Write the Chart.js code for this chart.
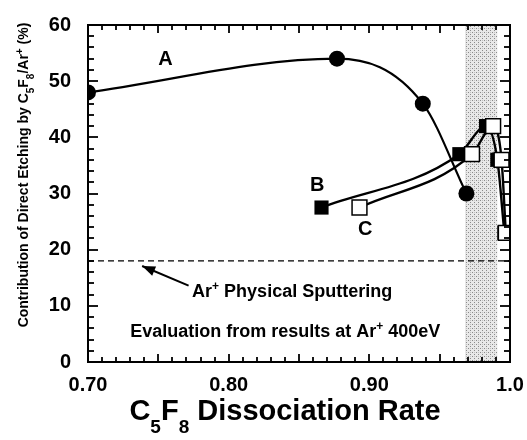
<!DOCTYPE html>
<html>
<head>
<meta charset="utf-8">
<script src="https://cdn.jsdelivr.net/npm/chart.js@4.4.1/dist/chart.umd.min.js"></script>
<style>
  html, body { margin: 0; padding: 0; background: #fff; }
  #wrap { width: 527px; height: 440px; }
</style>
</head>
<body>
<div id="wrap"><canvas id="c" width="527" height="440"></canvas></div>
<script>
// ---- data ----
const seriesA_x = [0.700, 0.877, 0.938, 0.969];
const seriesA_y = [48, 54, 46, 30];
const seriesB_x = [0.866, 0.964, 0.983, 0.991, 0.996];
const seriesB_y = [27.5, 37, 42, 36, 23];
const seriesC_x = [0.893, 0.973, 0.988, 0.994, 0.997];
const seriesC_y = [27.5, 37, 42, 36, 23];
const sputterLevel = 18;
const shadeRange = [0.968, 0.991];
const xTickValues = [0.70, 0.80, 0.90, 1.0];
const xTickLabels = ['0.70', '0.80', '0.90', '1.0'];
const yTickLabels = ['0', '10', '20', '30', '40', '50', '60'];

const pts = (xs, ys) => xs.map((x, i) => ({ x: x, y: ys[i] }));
const FONT = '"Liberation Sans", Arial, Helvetica, sans-serif';

function makePattern(ctx) {
  const p = document.createElement('canvas');
  p.width = 4; p.height = 4;
  const g = p.getContext('2d');
  g.fillStyle = '#e8e8e8'; g.fillRect(0, 0, 4, 4);
  g.fillStyle = '#8a8a8a';
  g.fillRect(0, 0, 1, 1); g.fillRect(2, 2, 1, 1);
  g.fillStyle = '#c0c0c0';
  g.fillRect(2, 0, 1, 1);
  return ctx.createPattern(p, 'repeat');
}

function richWidth(ctx, parts, size, subSize) {
  let w = 0;
  parts.forEach(p => {
    ctx.font = 'bold ' + ((p.sub || p.sup) ? subSize : size) + 'px ' + FONT;
    w += ctx.measureText(p.t).width;
  });
  return w;
}
function drawRich(ctx, parts, x, y, size, subSize, align) {
  const w = richWidth(ctx, parts, size, subSize);
  let cx = align === 'center' ? x - w / 2 : (align === 'right' ? x - w : x);
  ctx.textBaseline = 'alphabetic';
  ctx.textAlign = 'left';
  parts.forEach(p => {
    const s = (p.sub || p.sup) ? subSize : size;
    ctx.font = 'bold ' + s + 'px ' + FONT;
    let dy = 0;
    if (p.sub) dy = size * 0.45;
    if (p.sup) dy = -size * 0.38;
    ctx.fillText(p.t, cx, y + dy);
    cx += ctx.measureText(p.t).width;
  });
}

const decorPlugin = {
  id: 'decor',
  beforeDatasetsDraw(chart) {
    const { ctx, chartArea: a, scales: { x } } = chart;
    ctx.save();
    ctx.fillStyle = makePattern(ctx);
    const x0 = x.getPixelForValue(shadeRange[0]);
    const x1 = x.getPixelForValue(shadeRange[1]);
    ctx.fillRect(x0, a.top, x1 - x0, a.bottom - a.top);
    ctx.restore();
  },
  afterDraw(chart) {
    const { ctx, chartArea: a, scales: { x, y } } = chart;
    ctx.save();
    ctx.setLineDash([]);
    ctx.strokeStyle = '#000';
    ctx.fillStyle = '#000';
    // frame
    ctx.lineWidth = 2;
    ctx.strokeRect(a.left, a.top, a.right - a.left, a.bottom - a.top);
    // x ticks (inward, bottom and top)
    const tw = 1.8;
    for (let i = 0; i <= 30; i++) {
      const px = Math.round(x.getPixelForValue(0.70 + i * 0.01));
      const len = (i % 5 === 0) ? 8 : 5;
      ctx.fillRect(px - tw / 2, a.bottom - len, tw, len);
      ctx.fillRect(px - tw / 2, a.top, tw, len);
    }
    // y ticks (inward, left and right)
    for (let v = 0; v <= 60; v += 2) {
      const py = Math.round(y.getPixelForValue(v));
      const len = (v % 10 === 0) ? 10 : 6;
      ctx.fillRect(a.left, py - tw / 2, len, tw);
      ctx.fillRect(a.right - len, py - tw / 2, len, tw);
    }
    // series labels
    ctx.font = 'bold 20px ' + FONT;
    ctx.textAlign = 'center';
    ctx.textBaseline = 'middle';
    ctx.fillText('A', x.getPixelForValue(0.755), y.getPixelForValue(53.9));
    ctx.fillText('B', x.getPixelForValue(0.863), y.getPixelForValue(31.5));
    ctx.fillText('C', x.getPixelForValue(0.897), y.getPixelForValue(23.6));
    // arrow
    const tx = x.getPixelForValue(0.7385), ty = y.getPixelForValue(17.1);
    const sx = x.getPixelForValue(0.7715), sy = y.getPixelForValue(13.6);
    ctx.lineWidth = 2;
    ctx.beginPath(); ctx.moveTo(sx, sy); ctx.lineTo(tx, ty); ctx.stroke();
    const ang = Math.atan2(ty - sy, tx - sx);
    const hl = 13, hw = 5;
    ctx.beginPath();
    ctx.moveTo(tx, ty);
    ctx.lineTo(tx - hl * Math.cos(ang) + hw * Math.sin(ang), ty - hl * Math.sin(ang) - hw * Math.cos(ang));
    ctx.lineTo(tx - hl * Math.cos(ang) - hw * Math.sin(ang), ty - hl * Math.sin(ang) + hw * Math.cos(ang));
    ctx.closePath(); ctx.fill();
    // annotation texts
    drawRich(ctx, [{ t: 'Ar' }, { t: '+', sup: true }, { t: ' Physical Sputtering' }],
      x.getPixelForValue(0.7740), y.getPixelForValue(11.65), 18, 12, 'left');
    drawRich(ctx, [{ t: 'Evaluation from results at Ar' }, { t: '+', sup: true }, { t: ' 400eV' }],
      x.getPixelForValue(0.7300), y.getPixelForValue(4.5), 18, 12, 'left');
    // x axis title
    drawRich(ctx, [{ t: 'C' }, { t: '5', sub: true }, { t: 'F' }, { t: '8', sub: true }, { t: ' Dissociation Rate' }],
      285, 420, 29, 19, 'center');
    // y axis title (rotated)
    ctx.save();
    ctx.translate(28, 175);
    ctx.rotate(-Math.PI / 2);
    drawRich(ctx, [{ t: 'Contribution of Direct Etching by C' }, { t: '5', sub: true }, { t: 'F' },
      { t: '8', sub: true }, { t: '/Ar' }, { t: '+', sup: true }, { t: ' (%)' }], 0, 0, 14, 10, 'center');
    ctx.restore();
    ctx.restore();
  }
};

const ctx = document.getElementById('c').getContext('2d');
new Chart(ctx, {
  type: 'scatter',
  data: {
    datasets: [
      {
        label: 'A', data: pts(seriesA_x, seriesA_y), showLine: true,
        borderColor: '#000', backgroundColor: '#000', borderWidth: 2.2,
        pointStyle: 'circle', pointRadius: 8, pointBorderWidth: 0,
        cubicInterpolationMode: 'monotone', order: 1
      },
      {
        label: 'C', data: pts(seriesC_x, seriesC_y), showLine: true,
        borderColor: '#000', backgroundColor: '#fff', borderWidth: 2.4,
        pointStyle: 'rect', pointRadius: 10.5, pointBorderWidth: 1.5,
        cubicInterpolationMode: 'monotone', order: 2
      },
      {
        label: 'B', data: pts(seriesB_x, seriesB_y), showLine: true,
        borderColor: '#000', backgroundColor: '#000', borderWidth: 2.4,
        pointStyle: 'rect', pointRadius: 10, pointBorderWidth: 0,
        cubicInterpolationMode: 'monotone', order: 3
      },
      {
        label: 'sputter', data: [{ x: 0.70, y: sputterLevel }, { x: 1.0, y: sputterLevel }],
        showLine: true, borderColor: '#000', borderWidth: 1.3, borderDash: [6, 4],
        pointRadius: 0, order: 4
      }
    ]
  },
  options: {
    responsive: false,
    animation: false,
    layout: { padding: { left: 0, right: 17, top: 25, bottom: 0 } },
    plugins: { legend: { display: false }, tooltip: { enabled: false } },
    scales: {
      x: {
        type: 'linear', min: 0.70, max: 1.0,
        afterFit: s => { s.height = 78; },
        afterBuildTicks: s => { s.ticks = xTickValues.map(v => ({ value: v })); },
        ticks: {
          callback: (v) => { const i = xTickValues.findIndex(t => Math.abs(t - v) < 1e-6); return i >= 0 ? xTickLabels[i] : ''; },
          color: '#000', font: { family: FONT, size: 20, weight: 'bold' }, padding: 3,
          maxRotation: 0, autoSkip: false
        },
        grid: { display: false },
        border: { display: false }
      },
      y: {
        type: 'linear', min: 0, max: 60,
        afterFit: s => { s.width = 88; },
        ticks: {
          stepSize: 10,
          callback: (v) => yTickLabels[Math.round(v / 10)],
          color: '#000', font: { family: FONT, size: 20, weight: 'bold' }, padding: 9
        },
        grid: { display: false },
        border: { display: false }
      }
    }
  },
  plugins: [decorPlugin]
});
</script>
</body>
</html>
